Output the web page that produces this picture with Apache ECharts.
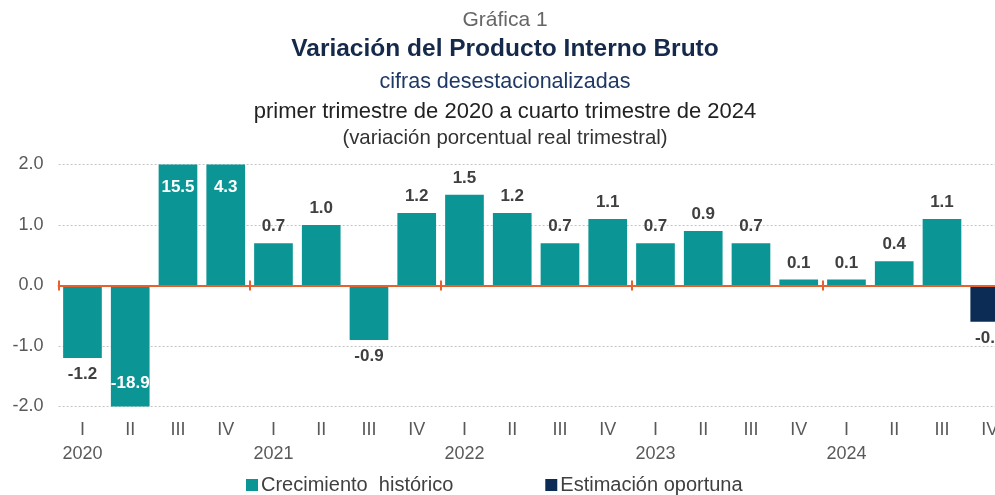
<!DOCTYPE html>
<html>
<head>
<meta charset="utf-8">
<script src="https://cdn.jsdelivr.net/npm/echarts@6/dist/echarts.min.js"></script>
<style>
html,body{margin:0;padding:0;background:#fff;}
#chart{width:995px;height:495px;}
</style>
</head>
<body>
<div id="chart"></div>
<script>
// ---- data ----
const quarters = ['I','II','III','IV','I','II','III','IV','I','II','III','IV','I','II','III','IV','I','II','III','IV'];
const years = ['2020','2021','2022','2023','2024'];
const historico = [-1.2, -18.9, 15.5, 4.3, 0.7, 1.0, -0.9, 1.2, 1.5, 1.2, 0.7, 1.1, 0.7, 0.9, 0.7, 0.1, 0.1, 0.4, 1.1, null];
const oportuna  = [null, null, null, null, null, null, null, null, null, null, null, null, null, null, null, null, null, null, null, -0.6];
const seriesNames = ['Crecimiento  histórico', 'Estimación oportuna'];
const yTicks = [-2, -1, 0, 1, 2];

const FONT = "'Liberation Sans', Arial, sans-serif";
const YMIN = yTicks[0], YMAX = yTicks[yTicks.length - 1];

function toData(arr) {
  return arr.map(function (v) {
    if (v == null) return '-';
    const item = { value: v };
    if (v > YMAX) item.label = { position: 'insideTop', color: '#ffffff', distance: 14 };
    else if (v < YMIN) item.label = { position: 'insideBottom', color: '#ffffff', distance: 15 };
    else item.label = { position: v >= 0 ? 'top' : 'bottom' };
    return item;
  });
}

const labelCommon = {
  show: true,
  fontFamily: FONT,
  fontSize: 17,
  fontWeight: 'bold',
  color: '#404040',
  distance: 8,
  formatter: function (p) { return Number(p.value).toFixed(1); }
};

const chart = echarts.init(document.getElementById('chart'), null, { renderer: 'canvas' });

function titleLine(text, top, size, weight, color) {
  return {
    text: text, left: 505, top: top, textAlign: 'center', padding: 0,
    textStyle: { fontFamily: FONT, fontSize: size, fontWeight: weight, color: color, lineHeight: size }
  };
}

const baseX = {
  type: 'category',
  data: quarters,
  boundaryGap: true,
  gridIndex: 0
};

chart.setOption({
  animation: false,
  backgroundColor: '#ffffff',
  title: [
    titleLine('Gráfica 1', 10, 21, 'normal', '#666666'),
    titleLine('Variación del Producto Interno Bruto', 37, 24.5, 'bold', '#15294b'),
    titleLine('cifras desestacionalizadas', 71, 21.5, 'normal', '#1f3864'),
    titleLine('primer trimestre de 2020 a cuarto trimestre de 2024', 101, 22, 'normal', '#222222'),
    titleLine('(variación porcentual real trimestral)', 128, 20.4, 'normal', '#333333')
  ],
  legend: {
    left: 246,
    top: 474,
    itemWidth: 12,
    itemHeight: 12,
    itemGap: 92,
    icon: 'rect',
    padding: 0,
    data: seriesNames,
    textStyle: { fontFamily: FONT, fontSize: 20, color: '#404040', lineHeight: 22, padding: [0, 0, 0, -2] }
  },
  grid: {
    left: 58.6,
    top: 164.5,
    width: 955,
    bottom: 88.5,
    containLabel: false,
    outerBoundsMode: 'none'
  },
  xAxis: [
    Object.assign({}, baseX, {
      position: 'bottom',
      axisLine: { show: false, onZero: false },
      axisTick: { show: false },
      splitLine: { show: false },
      axisLabel: {
        interval: 0,
        margin: 12,
        fontFamily: FONT,
        fontSize: 18,
        lineHeight: 24,
        color: '#595959',
        formatter: function (value, index) {
          return index % 4 === 0 ? value + '\n' + years[index / 4] : value;
        }
      }
    }),
    Object.assign({}, baseX, {
      position: 'bottom',
      axisLine: { show: true, onZero: true, onZeroAxisIndex: 0, lineStyle: { color: '#e8602c', width: 2 } },
      axisTick: { show: true, inside: false, length: 5, interval: function (i) { return i % 4 === 0; }, lineStyle: { color: '#e8602c', width: 2 } },
      axisLabel: { show: false },
      splitLine: { show: false },
      z: 5
    }),
    Object.assign({}, baseX, {
      position: 'bottom',
      axisLine: { show: false, onZero: true, onZeroAxisIndex: 0 },
      axisTick: { show: true, inside: true, length: 5, interval: function (i) { return i % 4 === 0; }, lineStyle: { color: '#e8602c', width: 2 } },
      axisLabel: { show: false },
      splitLine: { show: false },
      z: 5
    })
  ],
  yAxis: {
    type: 'value',
    min: YMIN,
    max: YMAX,
    interval: 1,
    axisLine: { show: false },
    axisTick: { show: false },
    axisLabel: {
      margin: 15,
      fontFamily: FONT,
      fontSize: 18,
      color: '#595959',
      formatter: function (v) { return v.toFixed(1); }
    },
    splitLine: { show: true, lineStyle: { color: '#c4c4c4', type: [2, 2], width: 1 } }
  },
  series: [
    {
      name: seriesNames[0],
      type: 'bar',
      data: toData(historico),
      barCategoryGap: '19%',
      barGap: '-100%',
      clip: true,
      itemStyle: { color: '#0c9595' },
      label: labelCommon
    },
    {
      name: seriesNames[1],
      type: 'bar',
      data: toData(oportuna),
      barCategoryGap: '19%',
      barGap: '-100%',
      clip: true,
      itemStyle: { color: '#0c2c56' },
      label: labelCommon
    }
  ]
});
</script>
</body>
</html>
